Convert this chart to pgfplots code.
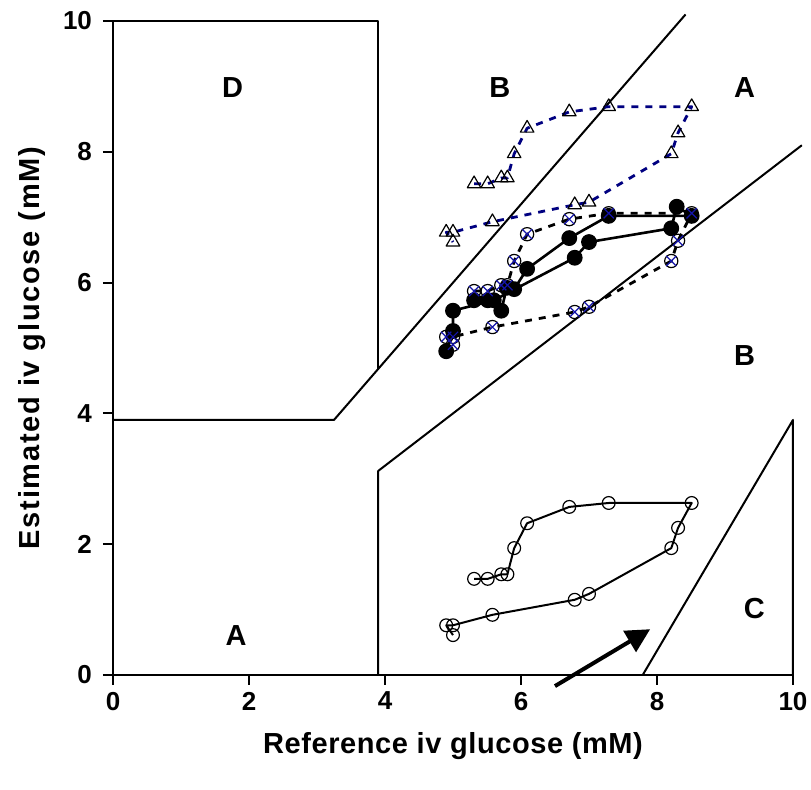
\documentclass[border=0pt]{standalone}
\usepackage{fontspec}
\setmainfont{Liberation Sans}
\usepackage{pgfplots}
\usepackage{pgfplotstable}
\pgfplotsset{compat=1.18}
\usetikzlibrary{arrows.meta}
\definecolor{navyb}{RGB}{0,0,128}
\definecolor{xblue}{RGB}{20,20,170}

% filled circles, solid line
\pgfplotstableread{
x y
5.31 5.73
5.51 5.73
5.71 5.57
5.79 5.92
5.90 5.90
6.09 6.21
6.71 6.68
7.29 7.02
8.51 7.02
8.29 7.16
8.21 6.83
7.00 6.62
6.79 6.38
5.60 5.73
5.00 5.57
5.00 5.26
4.90 4.95
}\tabfilled

% circle-x, black dashed
\pgfplotstableread{
x y
5.31 5.87
5.51 5.87
5.71 5.96
5.80 5.96
5.90 6.33
6.09 6.74
6.71 6.97
7.29 7.06
8.51 7.06
8.31 6.64
8.21 6.33
7.00 5.63
6.79 5.55
5.58 5.32
5.00 5.17
4.90 5.17
5.00 5.05
}\tabotimes

% triangles, navy dashed
\pgfplotstableread{
x y
5.31 7.51
5.51 7.51
5.71 7.60
5.80 7.60
5.90 7.97
6.09 8.36
6.71 8.61
7.29 8.69
8.51 8.69
8.31 8.29
8.21 7.97
7.00 7.23
6.79 7.19
5.58 6.93
5.00 6.77
4.90 6.77
5.00 6.62
}\tabtri

% open circles, lower loop
\pgfplotstableread{
x y
5.31 1.47
5.51 1.47
5.71 1.54
5.80 1.54
5.90 1.94
6.09 2.32
6.71 2.57
7.29 2.63
8.51 2.63
8.31 2.25
8.21 1.94
7.00 1.24
6.79 1.15
5.58 0.92
5.00 0.76
4.90 0.76
5.00 0.61
}\tabopen

\begin{document}
\begin{tikzpicture}
\useasboundingbox (-56.5pt,-57.5pt) rectangle (349pt,337.5pt);
\begin{axis}[
  width=340pt, height=327pt, scale only axis,
  xmin=0, xmax=10, ymin=0, ymax=10,
  axis x line*=bottom, axis y line*=left,
  axis line style={line width=1pt},
  xtick={0,2,...,10}, ytick={0,2,...,10},
  tick align=outside, major tick length=5pt,
  tick style={line width=1pt, black},
  ticklabel style={font=\bfseries\fontsize{13}{15}\selectfont},
  /pgf/number format/assume math mode=true,
  yticklabel style={xshift=-2pt},
  xlabel={Reference iv glucose (mM)},
  ylabel={Estimated iv glucose (mM)},
  xlabel style={font=\bfseries\fontsize{14.5}{16}\selectfont\addfontfeature{LetterSpace=2},
    at={(axis description cs:0.5,-0.1086)}, anchor=center},
  ylabel style={font=\bfseries\fontsize{14.5}{16}\selectfont\addfontfeature{LetterSpace=6},
    at={(axis description cs:-0.119,0.5)}, anchor=center},
  clip=false,
  every axis plot/.append style={line join=round},
]
% zone boundaries
\addplot[black, line width=1pt, no markers] coordinates {(0,10) (3.9,10) (3.9,4.68)};
\addplot[black, line width=1pt, no markers] coordinates {(0,3.9) (3.25,3.9) (8.42,10.1)};
\addplot[black, line width=1pt, no markers] coordinates {(3.9,0) (3.9,3.12) (10.13,8.1)};
\addplot[black, line width=1pt, no markers] coordinates {(7.79,0) (10,3.9) (10,0)};

% triangles
\addplot[navyb, line width=1.4pt, dash pattern=on 3.5pt off 3.5pt,
  mark=triangle, mark size=3.9pt,
  mark options={solid, draw=black, fill=none, line width=0.6pt}] table {\tabtri};

% lower open circles
\addplot[black, line width=1pt, mark=o, mark size=3.2pt,
  mark options={line width=0.6pt}] table {\tabopen};

% filled circles
\addplot[black, line width=1.3pt, mark=*, mark size=3.3pt] table {\tabfilled};

% circle-x
\addplot[black, line width=1.4pt, dash pattern=on 3.5pt off 3.5pt,
  mark=o, mark size=3.3pt, mark options={solid, line width=0.6pt}] table {\tabotimes};
\addplot[only marks, xblue, mark=x, mark size=3.6pt,
  mark options={line width=0.6pt}] table {\tabotimes};

% zone letters
\node[font=\bfseries\fontsize{14.5}{16}\selectfont] at (axis cs:1.76,8.98) {D};
\node[font=\bfseries\fontsize{14.5}{16}\selectfont] at (axis cs:5.69,8.98) {B};
\node[font=\bfseries\fontsize{14.5}{16}\selectfont] at (axis cs:9.29,8.98) {A};
\node[font=\bfseries\fontsize{14.5}{16}\selectfont] at (axis cs:9.29,4.88) {B};
\node[font=\bfseries\fontsize{14.5}{16}\selectfont] at (axis cs:9.43,1.02) {C};
\node[font=\bfseries\fontsize{14.5}{16}\selectfont] at (axis cs:1.81,0.61) {A};

% arrow
\draw[line width=2pt, -{Triangle[length=12pt, width=12pt]}]
  (axis cs:6.5,-0.17) -- (axis cs:7.9,0.70);
\end{axis}
\end{tikzpicture}
\end{document}
